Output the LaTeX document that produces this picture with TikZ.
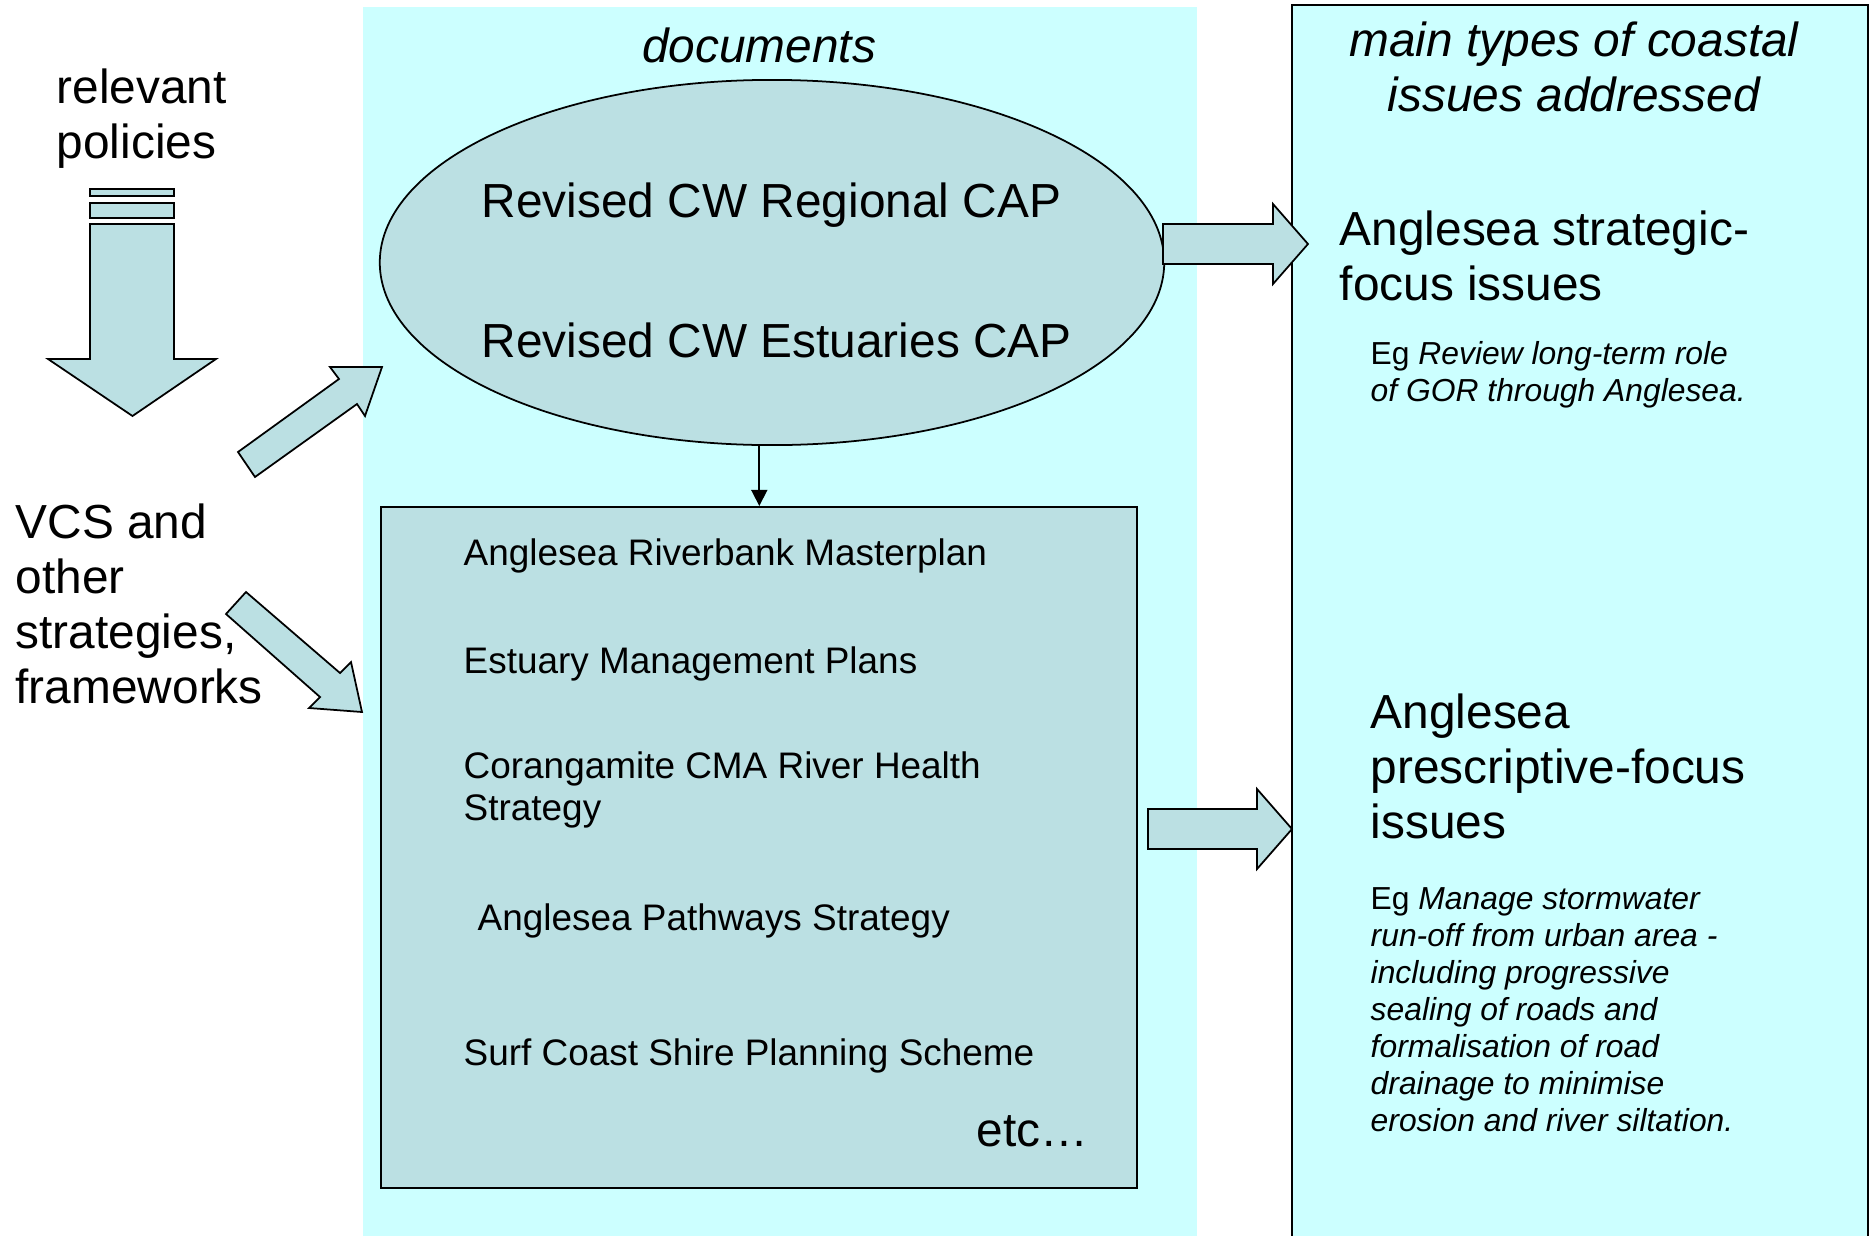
\documentclass[tikz,border=0pt]{standalone}
\usepackage{fontspec}
\setmainfont{Liberation Sans}
\usepackage{tikz}
\usetikzlibrary{arrows.meta,shapes.geometric}
\definecolor{panelcyan}{HTML}{CCFFFF}
\definecolor{shapeblue}{HTML}{BBE0E3}

\begin{document}
\begin{tikzpicture}[x=0.01cm, y=-0.01cm,
    panel/.style={fill=panelcyan},
    plate/.style={draw, fill=shapeblue, line width=0.5pt},
    bigtext/.style={inner sep=0pt, align=left, font=\fontsize{13.6}{15.65}\selectfont},
    listtext/.style={inner sep=0pt, anchor=west, align=left, font=\fontsize{10.5}{11.95}\selectfont},
    smalltext/.style={inner sep=0pt, anchor=west, align=left, font=\fontsize{9.05}{10.5}\selectfont}]
      \useasboundingbox (0,0) rectangle (1875,1236);
      \fill [panel] (363,7) rectangle (1197,1236);
      \draw [panel, line width=0.5pt] (1292,5) rectangle (1868,1250);
      \node [plate, ellipse, minimum width=7.84cm, minimum height=3.65cm, inner sep=0pt] (ell) at (772,262.5) {};
      \node [plate, rectangle, minimum width=7.555cm, minimum height=6.81cm, inner sep=0pt] (box) at (759.3,847.5) {};
      \draw [line width=0.5pt, -{Triangle[length=0.16cm, width=0.16cm]}] (box.north |- ell.south) -- (box.north);
      \begin{scope}[line width=0.5pt]
        \filldraw [plate] (90,189) rectangle (174,196);
        \filldraw [plate] (90,203) rectangle (174,218);
        \filldraw [plate] (90,224) -- (174,224) -- (174,359) -- (216,359) -- (132.5,416) -- (48,359) -- (90,359) -- cycle;
        \filldraw [plate] (238,452) -- (339,379) -- (330,367) -- (382,367) -- (365,416) -- (357,404) -- (255,477) -- cycle;
        \filldraw [plate] (246,592) -- (340,673) -- (351,662) -- (362,712) -- (309,708) -- (320,697) -- (226,614) -- cycle;
        \filldraw [plate] (1163,224) -- (1273,224) -- (1273,204) -- (1308,244) -- (1273,284) -- (1273,264) -- (1163,264) -- cycle;
        \filldraw [plate] (1148,809) -- (1257,809) -- (1257,789) -- (1292,829) -- (1257,869) -- (1257,849) -- (1148,849) -- cycle;
      \end{scope}
      \node [bigtext, anchor=west] (pol) at (56,119) {relevant\\policies};
      \node [bigtext, anchor=west] (vcs) at (15,603.5) {VCS and\\other\\strategies,\\frameworks};
      \node [bigtext, font=\fontsize{13.6}{15.65}\selectfont\itshape] (docs) at (759,45) {documents};
      \node [bigtext, align=center, font=\fontsize{13.6}{15.65}\selectfont\itshape] (issues) at (1574,66.5) {main types of coastal\\issues addressed};
      \node [bigtext, anchor=west] (regcap) at (481,205) {Revised CW Regional CAP};
      \node [bigtext, anchor=west] (estcap) at (481,340) {Revised CW Estuaries CAP};
      \node [listtext] (river) at (463,556) {Anglesea Riverbank Masterplan};
      \node [listtext] (estplan) at (463,663.5) {Estuary Management Plans};
      \node [listtext] (cma) at (463,789.5) {Corangamite CMA River Health\\Strategy};
      \node [listtext] (paths) at (477,920.5) {Anglesea Pathways Strategy};
      \node [listtext] (scheme) at (463,1055.5) {Surf Coast Shire Planning Scheme};
      \node [bigtext, anchor=west] (etc) at (976,1131) {etc…};
      \node [bigtext, anchor=west] (strat) at (1339,255.5) {Anglesea strategic-\\focus issues};
      \node [smalltext] (egrev) at (1370,375) {Eg \textit{Review long-term role}\\\textit{of GOR through Anglesea.}};
      \node [bigtext, anchor=west] (presc) at (1370,766.5) {Anglesea\\prescriptive-focus\\issues};
      \node [smalltext] (egman) at (1370,1009.7) {Eg \textit{Manage stormwater}\\\textit{run-off from urban area -}\\\textit{including progressive}\\\textit{sealing of roads and}\\\textit{formalisation of road}\\\textit{drainage to minimise}\\\textit{erosion and river siltation.}};
    \end{tikzpicture}
\end{document}
